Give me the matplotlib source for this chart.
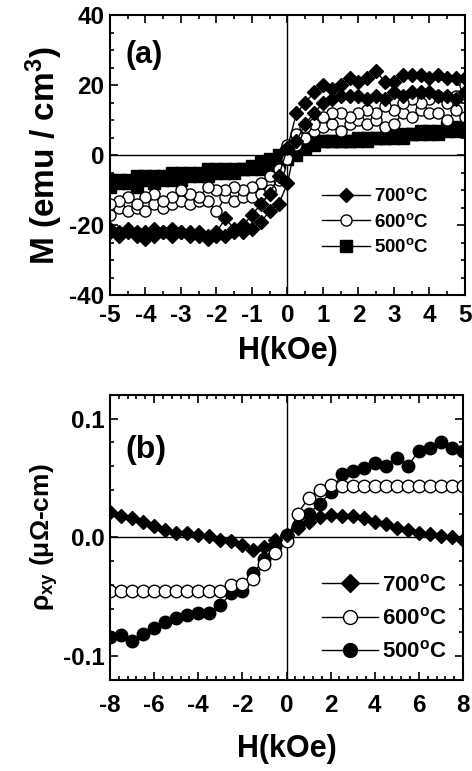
import numpy as np
import matplotlib
matplotlib.use('Agg')
import matplotlib.pyplot as plt
from matplotlib.ticker import MultipleLocator, FormatStrFormatter
from matplotlib.lines import Line2D

plt.rcParams['font.family'] = ['Liberation Sans', 'DejaVu Sans']
plt.rcParams['font.weight'] = 'bold'
plt.rcParams['axes.unicode_minus'] = False
plt.rcParams['mathtext.fontset'] = 'custom'
plt.rcParams['mathtext.rm'] = 'Liberation Sans:bold'
plt.rcParams['mathtext.bf'] = 'Liberation Sans:bold'
plt.rcParams['mathtext.it'] = 'Liberation Sans:bold'
plt.rcParams['mathtext.default'] = 'rm'

# ---------- (a) M-H loops, H in kOe ----------
H_a = np.arange(-5, 5.01, 0.25)

# rising branch (-5 -> 5) and falling branch (5 -> -5, listed here in rising H order)
m700_up = [-22, -23, -22, -23, -24, -23, -22, -23, -22, -23, -23, -24, -23, -23, -22, -22,
           -21, -19, -16, -14, -8, 4, 9, 12, 15, 16, 17, 17, 17, 16, 17, 16, 18, 17, 18, 18,
           18, 17, 17, 16, 18]
m700_dn = [-21, -22, -21, -22, -22, -21, -22, -21, -22, -22, -22, -23, -22, -18, -21, -20,
           -17, -14, -11, -6, 2, 12, 15, 18, 20, 19, 20, 22, 21, 22, 24, 21, 21, 23, 23, 23,
           22, 23, 22, 22, 22]
m600_up = [-17, -15, -16, -15, -16, -14, -15, -14, -13, -14, -13, -13, -16, -12, -13, -12,
           -12, -11, -10, -7, -1, 3, 5, 7, 8, 9, 7, 9, 10, 9, 10, 8, 9, 12, 11, 13, 12, 12,
           10, 13, 11]
m600_dn = [-14, -13, -12, -14, -12, -11, -13, -12, -10, -11, -12, -9, -10, -10, -9, -10,
           -9, -8, -6, -4, 3, 6, 8, 9, 11, 12, 12, 11, 12, 13, 12, 14, 13, 15, 16, 15, 16,
           17, 15, 17, 20]
m500_up = [-9, -8, -8, -9, -7, -8, -7, -7, -7, -6, -6, -6, -5, -5, -5, -4, -4, -4, -3, -2,
           -1, 0, 2, 3, 4, 4, 4, 4, 4, 4, 5, 5, 5, 5, 6, 6, 6, 6, 7, 7, 7]
m500_dn = [-7, -7, -7, -6, -6, -6, -6, -5, -5, -5, -5, -4, -4, -4, -4, -4, -3, -2, -1, 0,
           1, 2, 3, 4, 4, 4, 4, 4, 5, 5, 5, 5, 6, 6, 6, 7, 7, 7, 8, 8, 8]

# ---------- (b) Hall resistivity ----------
H_b = np.arange(-8, 8.01, 0.5)
r700 = [0.021, 0.018, 0.016, 0.013, 0.010, 0.006, 0.004, 0.004, 0.002, 0.001, -0.002,
        -0.003, -0.006, -0.011, -0.008, -0.002, 0.002, 0.008, 0.013, 0.017, 0.019, 0.018,
        0.018, 0.016, 0.013, 0.011, 0.008, 0.006, 0.004, 0.003, 0.001, 0.000, -0.002]
r600 = [-0.045, -0.045, -0.045, -0.045, -0.045, -0.045, -0.045, -0.045, -0.045, -0.045,
        -0.045, -0.040, -0.039, -0.035, -0.022, -0.013, -0.003, 0.020, 0.033, 0.040, 0.044,
        0.043, 0.043, 0.043, 0.043, 0.043, 0.043, 0.043, 0.043, 0.043, 0.043, 0.043, 0.043]
r500 = [-0.084, -0.082, -0.087, -0.081, -0.076, -0.071, -0.068, -0.065, -0.064, -0.064,
        -0.057, -0.047, -0.045, -0.030, -0.018, -0.007, 0.002, 0.010, 0.020, 0.028, 0.038,
        0.053, 0.056, 0.058, 0.063, 0.060, 0.067, 0.060, 0.073, 0.075, 0.080, 0.075, 0.073]

labels = ['700$^{\\rm o}$C', '600$^{\\rm o}$C', '500$^{\\rm o}$C']

fig = plt.figure(figsize=(4.72, 7.71), dpi=100)
ax1 = fig.add_axes([0.233, 0.617, 0.752, 0.363])
ax2 = fig.add_axes([0.233, 0.118, 0.748, 0.370])


def loop(ax, up, dn, **kw):
    # rising branch then falling branch as one trace
    x = np.concatenate([H_a, H_a[::-1]])
    y = np.concatenate([up, dn[::-1]])
    ax.plot(x, y, color='k', lw=1, mec='k', **kw)


loop(ax1, m500_up, m500_dn, marker='s', ms=8, mfc='k')
loop(ax1, m600_up, m600_dn, marker='o', ms=8, mfc='white')
loop(ax1, m700_up, m700_dn, marker='D', ms=7, mfc='k')

ax2.plot(H_b, r500, color='k', lw=1, marker='o', ms=9, mfc='k', mec='k')
ax2.plot(H_b, r600, color='k', lw=1, marker='o', ms=9, mfc='white', mec='k')
ax2.plot(H_b, r700, color='k', lw=1, marker='D', ms=7.5, mfc='k', mec='k')

for ax in (ax1, ax2):
    ax.axhline(0, color='k', lw=1, zorder=0)
    ax.axvline(0, color='k', lw=1, zorder=0)
    for s in ax.spines.values():
        s.set_linewidth(1.5)
    ax.tick_params(which='both', direction='in', top=True, right=True, width=1.2)
    ax.tick_params(which='major', length=6, labelsize=17.5, pad=4)
    ax.tick_params(which='minor', length=3)
    for t in ax.get_xticklabels() + ax.get_yticklabels():
        t.set_fontweight('bold')

ax1.set_xlim(-5, 5)
ax1.set_ylim(-40, 40)
ax1.xaxis.set_major_locator(MultipleLocator(1))
ax1.xaxis.set_minor_locator(MultipleLocator(0.5))
ax1.yaxis.set_major_locator(MultipleLocator(20))
ax1.yaxis.set_minor_locator(MultipleLocator(5))
ax1.tick_params(axis='x', which='major', pad=6)
ax1.set_xlabel('H(kOe)', fontsize=22, fontweight='bold', labelpad=7)
ax1.set_ylabel('M (emu / cm$^3$)', fontsize=24, fontweight='bold', labelpad=3)
ax1.text(0.045, 0.83, '(a)', transform=ax1.transAxes, fontsize=22, fontweight='bold')

ax2.set_xlim(-8, 8)
ax2.set_ylim(-0.12, 0.12)
ax2.xaxis.set_major_locator(MultipleLocator(2))
ax2.xaxis.set_minor_locator(MultipleLocator(0.4))
ax2.yaxis.set_major_locator(MultipleLocator(0.1))
ax2.yaxis.set_minor_locator(MultipleLocator(0.02))
ax2.yaxis.set_major_formatter(FormatStrFormatter('%.1f'))
ax2.tick_params(axis='x', which='major', pad=10)
ax2.set_xlabel('H(kOe)', fontsize=22, fontweight='bold', labelpad=12)
ax2.set_ylabel('ρ$_{xy}$ (μΩ-cm)', fontsize=19, fontweight='bold', labelpad=2)
ax2.text(0.045, 0.78, '(b)', transform=ax2.transAxes, fontsize=23, fontweight='bold')

# legends
h_a = [Line2D([], [], color='k', lw=1, marker='D', ms=7, mfc='k', mec='k'),
       Line2D([], [], color='k', lw=1, marker='o', ms=8, mfc='white', mec='k'),
       Line2D([], [], color='k', lw=1, marker='s', ms=8, mfc='k', mec='k')]
ax1.legend(h_a, labels, loc='upper left', bbox_to_anchor=(0.57, 0.42), frameon=False,
           prop={'size': 13.5, 'weight': 'bold'}, handlelength=2.6, handletextpad=0.2,
           labelspacing=0.4, borderpad=0)
h_b = [Line2D([], [], color='k', lw=1, marker='D', ms=9, mfc='k', mec='k'),
       Line2D([], [], color='k', lw=1, marker='o', ms=10, mfc='white', mec='k'),
       Line2D([], [], color='k', lw=1, marker='o', ms=10, mfc='k', mec='k')]
ax2.legend(h_b, labels, loc='upper left', bbox_to_anchor=(0.57, 0.41), frameon=False,
           prop={'size': 16, 'weight': 'bold'}, handlelength=2.5, handletextpad=0.2,
           labelspacing=0.5, borderpad=0)

plt.savefig('out.png', dpi=100)
plt.close()
